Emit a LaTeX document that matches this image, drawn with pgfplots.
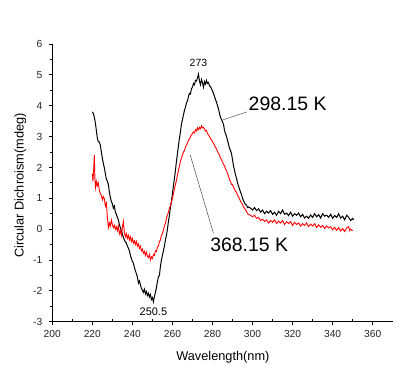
\documentclass[border=0pt]{standalone}
\usepackage{fontspec}
\setmainfont{Liberation Sans}
\usepackage{pgfplots}
\pgfplotsset{compat=1.18}

% CD spectra, 298.15 K (black) and 368.15 K (red)
\begin{document}
\begin{tikzpicture}
\useasboundingbox (-52.3bp,-47.3bp) rectangle (362.7bp,321.7bp);
\begin{axis}[
    at={(0,0)}, anchor=south west,
    scale only axis, width=340.4bp, height=277.7bp,
    xmin=200, xmax=370, ymin=-3, ymax=6,
    xtick={200,220,...,360}, ytick={-3,-2,...,6},
    minor x tick num=1, minor y tick num=1,
    axis lines*=left,
    axis line style={line width=0.9bp},
    tick align=outside,
    major tick length=3.5bp, minor tick length=2.5bp,
    every tick/.style={black, line width=0.8bp},
    minor x tick style={yshift=2.5bp},
    /pgf/number format/assume math mode=true,
    tick label style={font=\fontsize{10.3}{11}\selectfont, text=black!85},
    xticklabel style={yshift=-1.5bp},
    yticklabel style={xshift=-3bp},
    xlabel={Wavelength(nm)},
    ylabel={Circular Dichroism(mdeg)},
    label style={font=\fontsize{12.8}{14}\selectfont},
    xlabel style={at={(axis description cs:0.501,-0.129)}, anchor=center},
    ylabel style={at={(axis description cs:-0.094,0.49)}, anchor=center},
    clip=false,
]
% 298.15 K
\addplot[black, line width=1bp] coordinates {
(220,3.80) (220.5,3.75) (221,3.62) (221.5,3.45) (222,3.20) (222.5,2.95) (223,2.83) (223.5,2.82)
(224,2.72) (224.5,2.50) (225,2.30) (225.5,2.13) (226,1.98) (226.5,1.80) (227,1.62) (227.5,1.55)
(228,1.45) (228.5,1.20) (229,1.02) (229.5,0.90) (230,0.82) (230.5,0.68) (231,0.75) (231.5,0.55)
(232,0.48) (232.5,0.38) (233,0.30) (233.5,0.15) (234,0.05) (234.5,-0.05) (235,-0.15) (235.5,-0.28)
(236,-0.35) (236.5,-0.42) (237,-0.45) (237.5,-0.55) (238,-0.62) (238.5,-0.70) (239,-0.85) (239.5,-0.95)
(240,-1.05) (240.5,-1.10) (241,-1.25) (241.5,-1.35) (242,-1.45) (242.5,-1.55) (243,-1.75) (243.5,-1.68)
(244,-1.80) (244.5,-1.92) (245,-1.98) (245.5,-2.05) (246,-1.95) (246.5,-2.10) (247,-2.02) (247.5,-2.15)
(248,-2.08) (248.5,-2.20) (249,-2.12) (249.5,-2.28) (250,-2.22) (250.5,-2.35) (251,-2.18) (251.5,-2.05)
(252,-1.90) (252.5,-1.70) (253,-1.55) (253.5,-1.50) (254,-1.20) (254.5,-1.00) (255,-0.85) (255.5,-0.70)
(256,-0.55) (256.5,-0.35) (257,-0.20) (257.5,0.00) (258,0.25) (258.5,0.45) (259,0.70) (259.5,0.90)
(260,1.15) (260.5,1.40) (261,1.65) (261.5,1.90) (262,2.20) (262.5,2.45) (263,2.70) (263.5,2.95)
(264,3.15) (264.5,3.40) (265,3.55) (265.5,3.70) (266,3.85) (266.5,3.95) (267,4.10) (267.5,4.15)
(268,4.30) (268.5,4.40) (269,4.38) (269.5,4.55) (270,4.60) (270.5,4.72) (271,4.68) (271.5,4.82)
(272,4.80) (272.5,4.90) (273,5.02) (273.5,4.80) (274,4.68) (274.5,4.85) (275,4.75) (275.5,4.60)
(276,4.78) (276.5,4.70) (277,4.82) (277.5,4.72) (278,4.75) (278.5,4.65) (279,4.62) (279.5,4.55)
(280,4.48) (280.5,4.40) (281,4.30) (281.5,4.20) (282,4.12) (282.5,4.00) (283,3.90) (283.5,3.75)
(284,3.62) (284.5,3.55) (285,3.48) (285.5,3.40) (286,3.20) (286.5,3.10) (287,3.00) (287.5,2.88)
(288,2.75) (288.5,2.62) (289,2.55) (289.5,2.45) (290,2.25) (290.5,2.05) (291,1.90) (291.5,1.75)
(292,1.65) (292.5,1.50) (293,1.40) (293.5,1.30) (294,1.20) (294.5,1.12) (295,1.00) (295.5,0.92)
(296,0.85) (296.5,0.80) (297,0.78) (297.5,0.70) (298,0.72) (299,0.68) (300,0.62) (301,0.70)
(302,0.60) (303,0.66) (304,0.55) (305,0.62) (306,0.50) (307,0.58) (308,0.52) (309,0.60)
(310,0.48) (311,0.55) (312,0.45) (313,0.58) (314,0.50) (315,0.62) (316,0.48) (317,0.52)
(318,0.44) (319,0.55) (320,0.42) (321,0.50) (322,0.45) (323,0.52) (324,0.40) (325,0.48)
(326,0.36) (327,0.42) (328,0.35) (329,0.46) (330,0.38) (331,0.50) (332,0.40) (333,0.47)
(334,0.36) (335,0.50) (336,0.42) (337,0.45) (338,0.38) (339,0.48) (340,0.35) (341,0.44)
(342,0.38) (343,0.50) (344,0.36) (345,0.42) (346,0.30) (347,0.45) (348,0.38) (349,0.28)
(350,0.35) (350.5,0.30)
};
% 368.15 K
\addplot[red, line width=0.9bp] coordinates {
(220,1.80) (220.3,1.55) (220.6,1.85) (221,2.40) (221.3,1.60) (221.6,1.35) (222,1.55) (222.5,1.40)
(223,1.50) (223.5,1.25) (224,1.15) (224.5,1.10) (225,0.95) (225.5,1.05) (226,0.98) (226.5,0.75)
(227,0.85) (227.5,0.40) (228,0.05) (228.5,0.20) (229,0.10) (229.5,0.30) (230,0.15) (230.5,0.05)
(231,0.12) (231.5,0.00) (232,0.08) (232.5,-0.05) (233,0.10) (233.5,-0.15) (234,-0.05) (234.5,-0.20)
(235,0.05) (235.5,0.25) (236,-0.10) (236.5,-0.25) (237,-0.15) (237.5,-0.30) (238,-0.20) (238.5,-0.35)
(239,-0.25) (239.5,-0.40) (240,-0.30) (240.5,-0.45) (241,-0.38) (241.5,-0.50) (242,-0.40) (242.5,-0.55)
(243,-0.48) (243.5,-0.62) (244,-0.55) (244.5,-0.70) (245,-0.65) (245.5,-0.78) (246,-0.72) (246.5,-0.85)
(247,-0.75) (247.5,-0.88) (248,-0.92) (248.5,-0.82) (249,-1.00) (249.5,-0.90) (250,-0.95) (250.5,-0.82)
(251,-0.85) (251.5,-0.70) (252,-0.72) (252.5,-0.58) (253,-0.55) (253.5,-0.40) (254,-0.35) (254.5,-0.20)
(255,-0.15) (255.5,-0.02) (256,0.10) (256.5,0.18) (257,0.35) (257.5,0.45) (258,0.55) (258.5,0.68)
(259,0.75) (259.5,0.88) (260,1.00) (260.5,1.15) (261,1.30) (261.5,1.45) (262,1.58) (262.5,1.75)
(263,1.90) (263.5,2.05) (264,2.20) (264.5,2.30) (265,2.40) (265.5,2.50) (266,2.55) (266.5,2.65)
(267,2.72) (267.5,2.80) (268,2.88) (268.5,2.92) (269,3.00) (269.5,3.05) (270,3.10) (270.5,3.15)
(271,3.12) (271.5,3.22) (272,3.18) (272.5,3.28) (273,3.22) (273.5,3.30) (274,3.25) (274.5,3.35)
(275,3.28) (275.5,3.30) (276,3.25) (276.5,3.18) (277,3.20) (277.5,3.10) (278,3.05) (278.5,3.00)
(279,2.95) (279.5,2.88) (280,2.85) (280.5,2.78) (281,2.72) (281.5,2.65) (282,2.60) (282.5,2.52)
(283,2.45) (283.5,2.40) (284,2.30) (284.5,2.25) (285,2.18) (285.5,2.10) (286,2.05) (286.5,1.95)
(287,1.90) (287.5,1.80) (288,1.72) (288.5,1.60) (289,1.55) (289.5,1.45) (290,1.45) (290.5,1.35)
(291,1.30) (291.5,1.22) (292,1.20) (292.5,1.10) (293,1.05) (293.5,0.98) (294,0.90) (294.5,0.85)
(295,0.80) (295.5,0.72) (296,0.68) (296.5,0.62) (297,0.58) (297.5,0.50) (298,0.48) (299,0.45)
(300,0.40) (301,0.45) (302,0.35) (303,0.38) (304,0.28) (305,0.32) (306,0.25) (307,0.30)
(308,0.20) (309,0.28) (310,0.22) (311,0.30) (312,0.18) (313,0.26) (314,0.20) (315,0.28)
(316,0.15) (317,0.24) (318,0.18) (319,0.25) (320,0.12) (321,0.22) (322,0.15) (323,0.20)
(324,0.10) (325,0.18) (326,0.12) (327,0.20) (328,0.08) (329,0.16) (330,0.10) (331,0.18)
(332,0.05) (333,0.14) (334,0.06) (335,0.12) (336,0.02) (337,0.10) (338,0.04) (339,0.08)
(340,-0.02) (341,0.06) (342,-0.04) (343,0.05) (344,-0.06) (345,0.02) (346,-0.08) (347,0.04)
(348,0.08) (348.5,-0.05) (349,0.00) (350,-0.05)
};
\node[font=\fontsize{10.5}{11}\selectfont] at (axis cs:273,5.38) {273};
\node[font=\fontsize{11}{12}\selectfont] at (axis cs:250.5,-2.68) {250.5};
\node[font=\fontsize{19.5}{22}\selectfont, anchor=west, inner sep=0pt] at (axis cs:298,4.07) {298.15 K};
\node[font=\fontsize{19.5}{22}\selectfont, anchor=west, inner sep=0pt] at (axis cs:278.8,-0.52) {368.15 K};
\draw[black!70, line width=0.5bp] (axis cs:297.2,3.80) -- (axis cs:284.7,3.53);
\draw[black!70, line width=0.5bp] (axis cs:268.9,2.40) -- (axis cs:280.5,-0.14);
\end{axis}
\end{tikzpicture}
\end{document}
